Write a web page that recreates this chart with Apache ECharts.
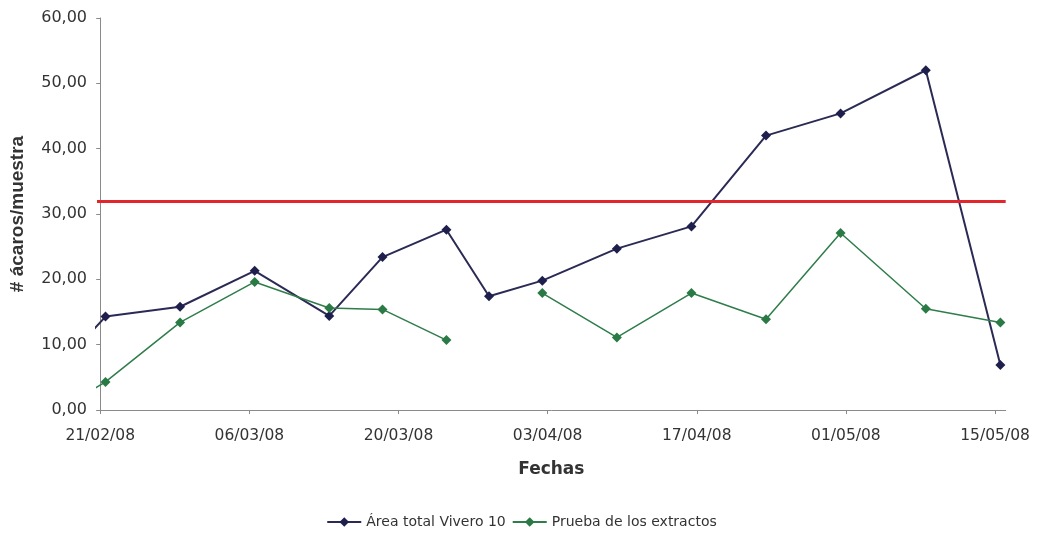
<!DOCTYPE html>
<html>
<head>
<meta charset="utf-8">
<script src="https://cdn.jsdelivr.net/npm/echarts@6/dist/echarts.min.js"></script>
<style>
  html, body { margin: 0; padding: 0; background: #ffffff; }
  #chart { width: 1043px; height: 535px; }
</style>
</head>
<body>
<div id="chart"></div>
<script>
// Sampling dates (dd/mm/yy). The first one lies before the axis start and is clipped.
const sampleDates = ['17/02/08', '21/02/08', '28/02/08', '06/03/08', '13/03/08', '18/03/08', '24/03/08',
                     '28/03/08', '02/04/08', '09/04/08', '16/04/08', '23/04/08', '30/04/08', '08/05/08', '15/05/08'];
// Mites per sample, total nursery area
const areaTotal = [7.2, 14.3, 15.8, 21.3, 14.4, 23.4, 27.6, 17.4, 19.8, 24.7, 28.1, 42.0, 45.4, 52.0, 6.9];
// Mites per sample, extract trial (no sample on 28/03/08)
const pruebaExtractos = [0.4, 4.3, 13.4, 19.6, 15.6, 15.4, 10.7, null, 17.9, 11.1, 17.9, 13.9, 27.1, 15.5, 13.4];
// Threshold level
const umbral = 32;
// Axis tick dates
const tickDates = ['21/02/08', '06/03/08', '20/03/08', '03/04/08', '17/04/08', '01/05/08', '15/05/08'];
const seriesNames = ['Área total Vivero 10', 'Prueba de los extractos'];

const DAY = 86400000;
const origin = Date.UTC(2008, 1, 21);
function toDay(s) {
  const [d, m, y] = s.split('/').map(Number);
  return Math.round((Date.UTC(2000 + y, m - 1, d) - origin) / DAY);
}
function fromDay(v) {
  const dt = new Date(origin + Math.round(v) * DAY);
  const p = n => String(n).padStart(2, '0');
  return p(dt.getUTCDate()) + '/' + p(dt.getUTCMonth() + 1) + '/' + p(dt.getUTCFullYear() % 100);
}
// each day occupies one unit; samples sit in the middle of their day
const xs = sampleDates.map(s => toDay(s) + 0.5);
const tickDays = tickDates.map(toDay);

const font = 'DejaVu Sans';
const chart = echarts.init(document.getElementById('chart'), null, { renderer: 'canvas' });
chart.setOption({
  backgroundColor: '#ffffff',
  animation: false,
  grid: { left: 96.8, right: 37.3, top: 18, bottom: 125, containLabel: false },
  xAxis: {
    type: 'value',
    min: -0.3,
    max: toDay('15/05/08') + 1,
    name: 'Fechas',
    nameLocation: 'middle',
    nameGap: 51,
    nameTextStyle: { fontFamily: font, fontSize: 17, fontWeight: 'bold', color: '#333333' },
    splitLine: { show: false },
    axisLine: { show: true, lineStyle: { color: '#8a8a8a', width: 1 } },
    axisTick: { show: true, length: 4, lineStyle: { color: '#8a8a8a' }, customValues: tickDays },
    axisLabel: {
      customValues: tickDays,
      margin: 18,
      fontFamily: font, fontSize: 15.5, color: '#333333',
      formatter: v => fromDay(v)
    }
  },
  yAxis: {
    type: 'value',
    min: 0, max: 60, interval: 10,
    name: '# ácaros/muestra',
    nameLocation: 'middle',
    nameGap: 70,
    nameTextStyle: { fontFamily: 'Liberation Sans', fontSize: 19, fontWeight: 'bold', color: '#333333' },
    splitLine: { show: false },
    axisLine: { show: true, onZero: true, lineStyle: { color: '#8a8a8a', width: 1 } },
    axisTick: { show: true, length: 4, lineStyle: { color: '#8a8a8a' } },
    axisLabel: {
      margin: 10,
      fontFamily: font, fontSize: 16, color: '#333333',
      formatter: v => v.toFixed(2).replace('.', ',')
    }
  },
  legend: {
    bottom: 1,
    left: 'center',
    itemWidth: 34,
    itemHeight: 12,
    itemGap: 6,
    textStyle: { fontFamily: font, fontSize: 14, color: '#333333' },
    data: seriesNames
  },
  series: [
    {
      name: seriesNames[0],
      type: 'line',
      clip: true,
      data: xs.map((x, i) => [x, areaTotal[i]]),
      symbol: 'diamond',
      symbolSize: 10,
      color: '#1f1f4d',
      lineStyle: { color: '#2a2a55', width: 2 },
      itemStyle: { color: '#1f1f4d' },
      markLine: {
        silent: true,
        symbol: ['none', 'none'],
        label: { show: false },
        lineStyle: { color: '#e3262b', width: 3, type: 'solid' },
        data: [{ yAxis: umbral }]
      }
    },
    {
      name: seriesNames[1],
      type: 'line',
      clip: true,
      connectNulls: false,
      data: xs.map((x, i) => [x, pruebaExtractos[i]]),
      symbol: 'diamond',
      symbolSize: 10,
      color: '#2a7a45',
      lineStyle: { color: '#2f7d4a', width: 1.5 },
      itemStyle: { color: '#2a7a45' }
    }
  ]
});
</script>
</body>
</html>
